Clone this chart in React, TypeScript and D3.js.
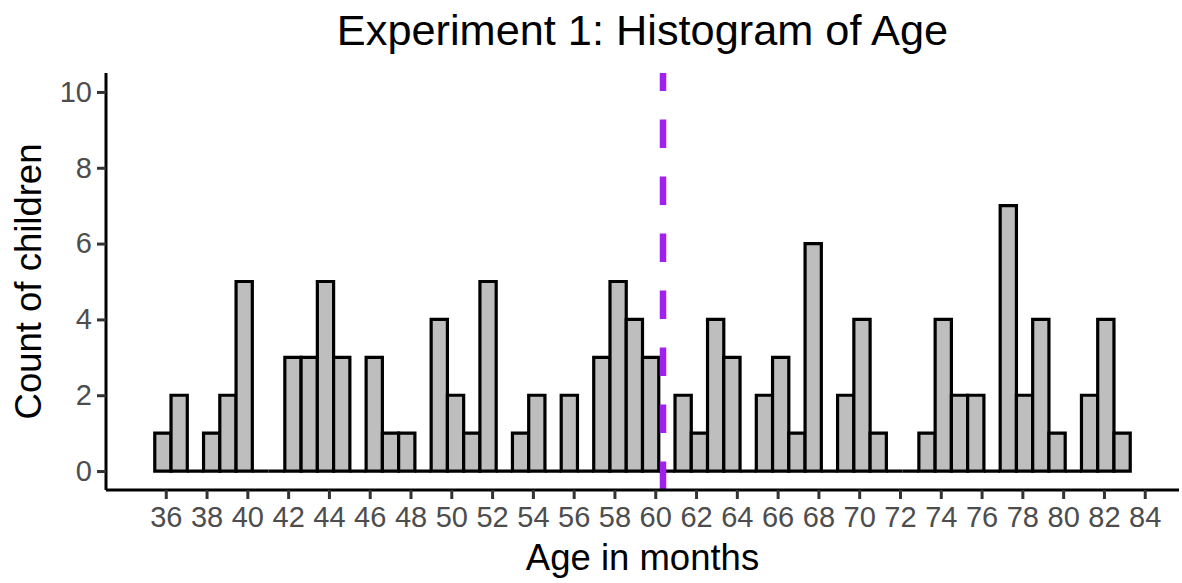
import * as React from 'react';
import {scaleLinear, select, axisBottom, axisLeft, range} from 'd3';

// counts per bin, 60 bins (ggplot default-style binning between min and max age)
const binCounts = [
  1, 2, 0, 1, 2, 5, 0, 0, 3, 3,
  5, 3, 0, 3, 1, 1, 0, 4, 2, 1,
  5, 0, 1, 2, 0, 2, 0, 3, 5, 4,
  3, 0, 2, 1, 4, 3, 0, 2, 3, 1,
  6, 0, 2, 4, 1, 0, 0, 1, 4, 2,
  2, 0, 7, 2, 4, 1, 0, 2, 4, 1,
];
const ageMin = 35.86;
const ageMax = 82.89;
const meanAge = 60.38;
const xTicks = range(36, 85, 2);
const yTicks = [0, 2, 4, 6, 8, 10];

const W = 1182;
const H = 583;
const FONT = '"Liberation Sans", Arial, sans-serif';

export default function App() {
  const ref = React.useRef<SVGSVGElement>(null);

  React.useEffect(() => {
    const svg = select(ref.current);
    svg.selectAll('*').remove();

    const margins = {left: 106, right: 3, top: 73, bottom: 93};
    const n = binCounts.length;
    const bw = (ageMax - ageMin) / (n - 1);
    const start = ageMin - bw / 2;
    const end = start + n * bw;
    const pad = (end - start) * 0.05;

    const x = scaleLinear().domain([start - pad, end + pad]).range([margins.left, W - margins.right]);
    const y = scaleLinear().domain([-0.5, 10.5]).range([H - margins.bottom, margins.top]);

    const bins = binCounts.map((c, i) => ({x0: start + i * bw, x1: start + (i + 1) * bw, c}));

    // paths rather than rects so empty bins still show their outline along 0
    svg.append('g')
      .selectAll('path')
      .data(bins)
      .enter()
      .append('path')
      .attr('d', (d) => `M${x(d.x0)},${y(0)}V${y(d.c)}H${x(d.x1)}V${y(0)}Z`)
      .attr('fill', '#BEBEBE')
      .attr('stroke', '#000')
      .attr('stroke-width', 3.2)
      .attr('stroke-linejoin', 'miter');

    // mean line, drawn bottom -> top like ggplot's vline
    svg.append('line')
      .attr('x1', x(meanAge)).attr('x2', x(meanAge))
      .attr('y1', y.range()[0]).attr('y2', y.range()[1])
      .attr('stroke', '#A020F0')
      .attr('stroke-width', 6.5)
      .attr('stroke-dasharray', '28.5 28.5');

    // x axis
    const gx = svg.append('g')
      .attr('transform', `translate(0,${y.range()[0]})`)
      .call(axisBottom(x).tickValues(xTicks).tickSize(9).tickSizeOuter(0).tickPadding(7));
    // y axis
    const gy = svg.append('g')
      .attr('transform', `translate(${margins.left},0)`)
      .call(axisLeft(y).tickValues(yTicks).tickSize(9).tickSizeOuter(0).tickPadding(5));

    [gx, gy].forEach((g) => {
      g.select('.domain').attr('stroke', '#000').attr('stroke-width', 3);
      g.selectAll('.tick line').attr('stroke', '#333333').attr('stroke-width', 3);
      g.selectAll('.tick text')
        .attr('fill', '#4D4D4D')
        .style('font-family', FONT)
        .style('font-size', '29px');
    });
    gx.select('.domain').attr('d', `M${x.range()[0]},0H${x.range()[1]}`);
    gy.select('.domain').attr('d', `M0,${y.range()[0]}V${y.range()[1]}`);

    // Title
    svg.append('text')
      .attr('x', (x.range()[0] + x.range()[1]) / 2)
      .attr('y', 45)
      .style('text-anchor', 'middle')
      .style('font-family', FONT)
      .style('font-size', '43.3px')
      .text('Experiment 1: Histogram of Age');

    // X axis title
    svg.append('text')
      .attr('x', (x.range()[0] + x.range()[1]) / 2)
      .attr('y', 570)
      .style('text-anchor', 'middle')
      .style('font-family', FONT)
      .style('font-size', '36.5px')
      .text('Age in months');

    // Y axis title
    svg.append('text')
      .attr('transform', `translate(41,${(y.range()[0] + y.range()[1]) / 2}) rotate(-90)`)
      .style('text-anchor', 'middle')
      .style('font-family', FONT)
      .style('font-size', '36.5px')
      .text('Count of children');
  }, []);

  return <svg ref={ref} width={W} height={H}
    style={{position: 'absolute', left: 0, top: 0, background: '#fff'}} />;
}
